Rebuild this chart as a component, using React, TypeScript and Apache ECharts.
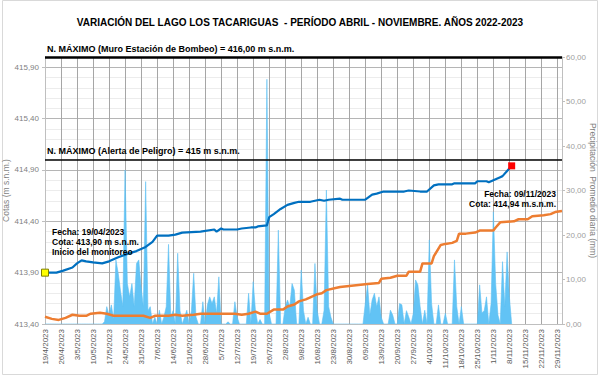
import { useEffect, useRef } from "react";
import * as echarts from "echarts";

const TITULO = "VARIACIÓN DEL LAGO LOS TACARIGUAS  - PERÍODO ABRIL - NOVIEMBRE. AÑOS 2022-2023";
const NOMBRE_EJE_IZQ = "Cotas (m s.n.m.)";
const NOMBRE_EJE_DER = "Precipitación  Promedio diaria (mm)";

// Eje X: días desde el 19/4/2023, marcas semanales
const FECHA_INICIO = "2023-04-19";
const FECHA_FIN_EJE = "2023-12-01";
const DIAS_MARCA = 7;

// Eje izquierdo (cotas) y derecho (precipitación)
const COTA_MIN = 413.4;
const COTA_MAX = 416.0;
const COTA_INTERVALO = 0.5;
const PREC_MIN = 0;
const PREC_MAX = 60;
const PREC_INTERVALO = 10;

// Niveles máximos
const nivelesValores = [416, 415];
const nivelesTextos = [
  "N. MÁXIMO (Muro Estación de Bombeo) = 416,00 m s.n.m.",
  "N. MÁXIMO (Alerta de Peligro) = 415 m s.n.m.",
];

// Cota del lago 2023 (m s.n.m.)
const cota2023: [string, number][] = [
  ["2023-04-19", 413.9], ["2023-04-24", 413.9], ["2023-04-27", 413.92], ["2023-05-01", 413.95],
  ["2023-05-03", 413.99], ["2023-05-05", 414.02], ["2023-05-07", 414.01], ["2023-05-10", 414.0],
  ["2023-05-14", 413.99], ["2023-05-17", 414.01], ["2023-05-21", 414.05], ["2023-05-26", 414.09],
  ["2023-05-29", 414.11], ["2023-06-02", 414.15], ["2023-06-05", 414.2], ["2023-06-07", 414.26],
  ["2023-06-12", 414.26], ["2023-06-15", 414.27], ["2023-06-18", 414.29], ["2023-06-26", 414.3],
  ["2023-07-02", 414.32], ["2023-07-03", 414.3], ["2023-07-05", 414.33], ["2023-07-06", 414.32],
  ["2023-07-12", 414.32], ["2023-07-14", 414.33], ["2023-07-18", 414.34], ["2023-07-20", 414.34],
  ["2023-07-21", 414.35], ["2023-07-25", 414.36], ["2023-07-26", 414.44], ["2023-07-28", 414.47],
  ["2023-07-31", 414.52], ["2023-08-03", 414.56], ["2023-08-06", 414.58], ["2023-08-08", 414.59],
  ["2023-08-13", 414.59], ["2023-08-17", 414.61], ["2023-08-19", 414.6], ["2023-08-21", 414.61],
  ["2023-08-26", 414.62], ["2023-08-27", 414.61], ["2023-09-06", 414.61], ["2023-09-09", 414.66],
  ["2023-09-11", 414.67], ["2023-09-14", 414.69], ["2023-09-23", 414.69], ["2023-09-25", 414.7],
  ["2023-09-30", 414.69], ["2023-10-03", 414.69], ["2023-10-06", 414.75], ["2023-10-08", 414.76],
  ["2023-10-14", 414.76], ["2023-10-15", 414.77], ["2023-10-24", 414.77], ["2023-10-25", 414.79],
  ["2023-10-29", 414.79], ["2023-10-30", 414.78], ["2023-11-02", 414.81], ["2023-11-04", 414.83],
  ["2023-11-05", 414.84], ["2023-11-07", 414.89], ["2023-11-09", 414.94],
];

// Cota del lago 2022 (m s.n.m.)
const cota2022: [string, number][] = [
  ["2022-04-19", 413.47], ["2022-04-22", 413.45], ["2022-04-25", 413.44], ["2022-04-28", 413.46],
  ["2022-05-01", 413.49], ["2022-05-04", 413.48], ["2022-05-07", 413.48], ["2022-05-09", 413.5],
  ["2022-05-13", 413.51], ["2022-05-16", 413.5], ["2022-05-19", 413.48], ["2022-05-23", 413.48],
  ["2022-05-28", 413.48], ["2022-06-01", 413.48], ["2022-06-04", 413.46], ["2022-06-06", 413.48],
  ["2022-06-12", 413.48], ["2022-06-15", 413.49], ["2022-06-18", 413.48], ["2022-06-23", 413.49],
  ["2022-06-26", 413.5], ["2022-07-11", 413.5], ["2022-07-14", 413.49], ["2022-07-17", 413.5],
  ["2022-07-20", 413.52], ["2022-07-22", 413.5], ["2022-07-25", 413.5], ["2022-07-28", 413.54],
  ["2022-08-01", 413.54], ["2022-08-03", 413.57], ["2022-08-06", 413.59], ["2022-08-08", 413.62],
  ["2022-08-11", 413.64], ["2022-08-13", 413.66], ["2022-08-16", 413.69], ["2022-08-18", 413.7],
  ["2022-08-20", 413.73], ["2022-08-24", 413.75], ["2022-08-26", 413.76], ["2022-08-30", 413.77],
  ["2022-09-03", 413.78], ["2022-09-07", 413.79], ["2022-09-12", 413.8], ["2022-09-13", 413.84],
  ["2022-09-17", 413.85], ["2022-09-20", 413.87], ["2022-09-24", 413.87], ["2022-09-25", 413.91],
  ["2022-09-30", 413.91], ["2022-10-01", 413.99], ["2022-10-05", 413.99], ["2022-10-06", 414.06],
  ["2022-10-09", 414.17], ["2022-10-11", 414.18], ["2022-10-14", 414.19], ["2022-10-16", 414.21],
  ["2022-10-17", 414.28], ["2022-10-20", 414.28], ["2022-10-24", 414.29], ["2022-10-26", 414.31],
  ["2022-11-01", 414.31], ["2022-11-02", 414.34], ["2022-11-04", 414.39], ["2022-11-10", 414.4],
  ["2022-11-12", 414.42], ["2022-11-16", 414.42], ["2022-11-18", 414.45], ["2022-11-23", 414.46],
  ["2022-11-26", 414.47], ["2022-11-28", 414.49], ["2022-12-01", 414.5],
];

// Precipitación promedio diaria (mm), un valor por día desde el 19/4/2023
const precipitacion: number[] = [
  0, 0, 0, 0, 0, 0, 0, 0, 0, 0,
  0, 0, 0, 0, 0, 0, 0, 0, 0, 0,
  0, 0, 0, 0, 0, 0, 0.5, 3.9, 2.0, 4.3,
  1.0, 14.4, 11.4, 7.5, 4.0, 34.6, 9.1, 6.1, 9.1, 3.9,
  13.6, 14.4, 8.4, 3.9, 32.0, 3.0, 3.9, 0, 1.6, 0,
  3.1, 0, 1.6, 3.9, 17.9, 1.6, 3.0, 0, 15.9, 3.0,
  0, 1.6, 3.1, 0, 3.0, 11.4, 1.6, 0, 0, 5.0,
  0, 4.3, 6.1, 4.6, 6.1, 2.4, 10.6, 0, 0, 0,
  0.5, 0, 0, 5.0, 1.6, 0, 0, 0, 0, 6.9,
  0, 9.5, 3.0, 0, 1.0, 0, 0, 55.0, 2.4, 0,
  0, 0, 21.1, 0, 0, 3.9, 5.4, 3.9, 9.1, 7.6,
  0, 0, 12.1, 3.0, 0, 1.5, 0, 0, 13.6, 3.0,
  0, 0, 3.1, 30.1, 3.9, 1.5, 0, 0, 0, 0,
  0, 0, 0, 0, 0, 0, 0, 0, 0, 0,
  4.6, 8.8, 2.0, 5.4, 6.9, 3.9, 6.1, 1.5, 0, 0,
  0, 3.1, 2.0, 0, 0, 4.6, 4.3, 0, 3.0, 1.6,
  0, 2.4, 9.9, 8.8, 3.9, 0, 3.1, 0, 18.9, 4.6,
  0, 0, 4.3, 0, 0, 2.4, 0, 0, 0, 14.4,
  3.9, 0, 3.9, 0, 0, 0, 0, 0, 0, 0,
  8.8, 2.5, 3.0, 6.1, 0, 4.6, 25.2, 9.1, 2.0, 0,
  14.0, 4.0, 16.2, 6.1, 0,
];

const anotacionInicio = ["Fecha: 19/04/2023", "Cota: 413,90 m s.n.m.", "Inicio del monitoreo"];
const anotacionFin = ["Fecha: 09/11/2023", "Cota: 414,94 m.s.n.m."];

const DIA_MS = 86400000;
const toUTC = (s: string) => {
  const [y, m, d] = s.split("-").map(Number);
  return Date.UTC(y, m - 1, d);
};
// día desde el 19 de abril del año de la fecha
const diaDesdeInicio = (s: string) => {
  const y = Number(s.slice(0, 4));
  return Math.round((toUTC(s) - Date.UTC(y, 3, 19)) / DIA_MS);
};
const baseInicio = toUTC(FECHA_INICIO);
const fmtFecha = (v: number) => {
  const d = new Date(baseInicio + Math.round(v) * DIA_MS);
  return `${d.getUTCDate()}/${d.getUTCMonth() + 1}/${d.getUTCFullYear()}`;
};
const fmtNum = (v: number) => v.toFixed(2).replace(".", ",");

export default function App() {
  const ref = useRef<HTMLDivElement>(null);
  useEffect(() => {
    if (!ref.current) return;
    const chart = echarts.init(ref.current, undefined, { renderer: "svg" });
    const FONT = "Liberation Sans, Arial, sans-serif";
    const serie2023 = cota2023.map(([f, v]) => [diaDesdeInicio(f), v]);
    const serie2022 = cota2022.map(([f, v]) => [diaDesdeInicio(f), v]);
    const seriePrec = precipitacion.map((v, i) => [i, v]);
    const primero = serie2023[0];
    const ultimo = serie2023[serie2023.length - 1];
    const maxDia = Math.round((toUTC(FECHA_FIN_EJE) - baseInicio) / DIA_MS);

    chart.setOption({
      animation: false,
      backgroundColor: "#ffffff",
      textStyle: { fontFamily: FONT },
      title: {
        text: TITULO,
        left: "center",
        top: 12,
        textStyle: { fontSize: 10, fontWeight: "bold", color: "#000", fontFamily: FONT },
      },
      grid: { left: 45, right: 38, top: 57, bottom: 51, outerBoundsMode: "none", containLabel: false },
      xAxis: {
        type: "value",
        min: 0,
        max: maxDia,
        interval: DIAS_MARCA,
        axisLine: { show: true, lineStyle: { color: "#bfbfbf" } },
        axisTick: { show: false },
        axisLabel: {
          rotate: 90,
          fontSize: 8,
          color: "#595959",
          margin: 5,
          showMaxLabel: false,
          formatter: fmtFecha,
          fontFamily: FONT,
        },
        splitLine: { show: true, lineStyle: { color: "#a6a6a6", width: 1 } },
      },
      yAxis: [
        {
          type: "value",
          min: COTA_MIN,
          max: COTA_MAX,
          interval: COTA_INTERVALO,
          name: NOMBRE_EJE_IZQ,
          nameLocation: "middle",
          nameRotate: 90,
          nameGap: 35,
          nameMoveOverlap: false,
          nameTextStyle: { fontSize: 8.5, color: "#7f7f7f", fontFamily: FONT },
          axisLine: { show: true, lineStyle: { color: "#bfbfbf" } },
          axisTick: { show: true, length: 3, lineStyle: { color: "#bfbfbf" } },
          axisLabel: {
            fontSize: 8,
            color: "#7f7f7f",
            margin: 6,
            showMaxLabel: false,
            formatter: fmtNum,
            fontFamily: FONT,
          },
          splitLine: { show: true, lineStyle: { color: "#b5b5b5", width: 1 } },
          minorTick: { show: false, splitNumber: 5 },
          minorSplitLine: { show: true, lineStyle: { color: "#ececec", width: 1 } },
        },
        {
          type: "value",
          min: PREC_MIN,
          max: PREC_MAX,
          interval: PREC_INTERVALO,
          position: "right",
          name: NOMBRE_EJE_DER,
          nameLocation: "middle",
          nameRotate: -90,
          nameGap: 26,
          nameMoveOverlap: false,
          nameTextStyle: { fontSize: 8.5, color: "#7f7f7f", fontFamily: FONT },
          axisLine: { show: true, lineStyle: { color: "#bfbfbf" } },
          axisTick: { show: true, length: 3, lineStyle: { color: "#bfbfbf" } },
          axisLabel: { fontSize: 8, color: "#a0a0a0", margin: 4, formatter: fmtNum, fontFamily: FONT },
          splitLine: { show: false },
        },
      ],
      series: [
        {
          name: "Precipitación",
          type: "line",
          yAxisIndex: 1,
          data: seriePrec,
          symbol: "none",
          lineStyle: { width: 0.6, color: "#5fc1f4" },
          areaStyle: { color: "#62c3f5", opacity: 1 },
          z: 1,
        },
        {
          name: "Cota 2022",
          type: "line",
          yAxisIndex: 0,
          data: serie2022,
          symbol: "none",
          lineStyle: { width: 2.5, color: "#ed7d31" },
          z: 3,
        },
        {
          name: "Cota 2023",
          type: "line",
          yAxisIndex: 0,
          data: serie2023,
          symbol: "none",
          lineStyle: { width: 2.2, color: "#0070c0" },
          z: 4,
          markLine: {
            silent: true,
            symbol: ["none", "none"],
            data: nivelesValores.map((v, i) => ({
              yAxis: v,
              lineStyle: { color: "#000", width: i === 0 ? 2.5 : 1.6, type: "solid" },
              label: {
                show: true,
                position: "insideStartTop",
                formatter: nivelesTextos[i],
                color: "#000",
                fontSize: 9,
                fontWeight: "bold",
                fontFamily: FONT,
                distance: [2, 4],
              },
            })),
          },
          markPoint: {
            silent: true,
            data: [
              {
                coord: primero,
                symbol: "rect",
                symbolSize: 7,
                itemStyle: { color: "#ffff00", borderColor: "#7f7f00", borderWidth: 1 },
                label: { show: false },
              },
              {
                coord: ultimo,
                symbol: "rect",
                symbolSize: 7,
                itemStyle: { color: "#ff0000" },
                label: { show: false },
              },
            ],
          },
        },
      ],
      graphic: [
        {
          type: "rect",
          shape: { x: 2.5, y: 0.5, width: 595, height: 374 },
          style: { fill: "none", stroke: "#d9d9d9", lineWidth: 1 },
          silent: true,
        },
        {
          type: "text",
          x: 52,
          y: 227,
          style: {
            text: anotacionInicio.join("\n"),
            font: `bold 8.5px ${FONT}`,
            lineHeight: 10,
            fill: "#000",
          },
          z: 10,
        },
        {
          type: "text",
          x: 556,
          y: 189,
          style: {
            text: anotacionFin.join("\n"),
            font: `bold 8.5px ${FONT}`,
            lineHeight: 10,
            fill: "#000",
            align: "right",
          },
          z: 10,
        },
      ],
    });
    return () => chart.dispose();
  }, []);
  return (
    <div
      ref={ref}
      style={{ position: "absolute", left: 0, top: 0, width: 600, height: 375, background: "#fff" }}
    />
  );
}
